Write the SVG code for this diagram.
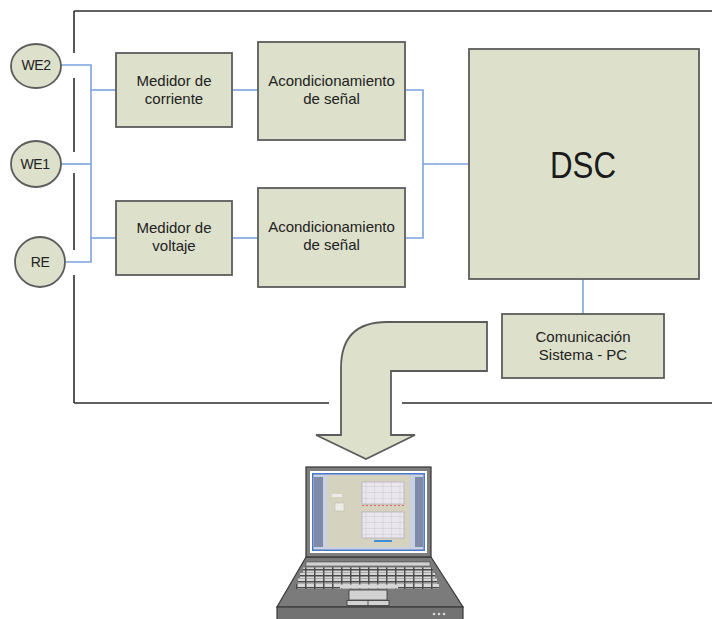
<svg xmlns="http://www.w3.org/2000/svg" width="712" height="619" viewBox="0 0 712 619">
  <defs>
    <style>
      .frame { stroke: #2e2e2e; stroke-width: 1.6; fill: none; }
      .box { fill: #dde0ca; stroke: #5c5c5c; stroke-width: 1.8; }
      .wire { stroke: #7ba3dc; stroke-width: 1.6; fill: none; }
      .lbl { font-family: "Liberation Sans", Arial, sans-serif; font-size: 15px; fill: #222; text-anchor: middle; }
      .node-lbl { font-family: "Liberation Sans", Arial, sans-serif; font-size: 14px; fill: #222; text-anchor: middle; letter-spacing: -0.4px; }
    </style>
    <pattern id="keys" patternUnits="userSpaceOnUse" width="9" height="6">
      <rect width="9" height="6" fill="#4a4a4a"/>
      <rect x="0.5" y="0.5" width="7.5" height="4.5" fill="#d6d6d6"/>
    </pattern>
    <pattern id="grid" patternUnits="userSpaceOnUse" width="8.5" height="6">
      <rect width="8.5" height="6" fill="#e9e6ee"/>
      <path d="M0 0H8.5M0 0V6" stroke="#b8b4c0" stroke-width="0.6"/>
    </pattern>
  </defs>

  <!-- enclosure outline -->
  <g id="enclosure">
    <path class="frame" d="M74 11H712"/>
    <path class="frame" d="M74 11V53M74 78V152M74 173V250M74 275V403"/>
    <path class="frame" d="M74 403H329M402 403H712"/>
  </g>

  <!-- connectors -->
  <g id="connectors">
    <path class="wire" d="M61 65H91V262H66"/>
    <path class="wire" d="M61 164H91"/>
    <path class="wire" d="M91 90H116"/>
    <path class="wire" d="M91 238H116"/>
    <path class="wire" d="M232 90H258"/>
    <path class="wire" d="M232 238H258"/>
    <path class="wire" d="M405 90H423V238H405"/>
    <path class="wire" d="M423 164H469"/>
    <path class="wire" d="M583 279V314"/>
  </g>

  <!-- electrodes -->
  <g id="we2">
    <ellipse class="box" cx="36" cy="66" rx="25" ry="22"/>
    <text class="node-lbl" x="36" y="70">WE2</text>
  </g>
  <g id="we1">
    <ellipse class="box" cx="36" cy="164" rx="25" ry="23"/>
    <text class="node-lbl" x="35" y="169">WE1</text>
  </g>
  <g id="re">
    <ellipse class="box" cx="40" cy="262" rx="25" ry="25"/>
    <text class="node-lbl" x="40" y="267">RE</text>
  </g>

  <!-- measurement blocks -->
  <g id="medidor-corriente">
    <rect class="box" x="116" y="53" width="116" height="74"/>
    <text class="lbl" x="174" y="86">Medidor de</text>
    <text class="lbl" x="174" y="104">corriente</text>
  </g>
  <g id="medidor-voltaje">
    <rect class="box" x="116" y="201" width="116" height="74"/>
    <text class="lbl" x="174" y="233">Medidor de</text>
    <text class="lbl" x="174" y="251">voltaje</text>
  </g>

  <!-- signal conditioning -->
  <g id="acond-1">
    <rect class="box" x="258" y="42" width="147" height="98"/>
    <text class="lbl" x="331.5" y="86">Acondicionamiento</text>
    <text class="lbl" x="331.5" y="104">de señal</text>
  </g>
  <g id="acond-2">
    <rect class="box" x="258" y="188" width="147" height="99"/>
    <text class="lbl" x="331.5" y="232">Acondicionamiento</text>
    <text class="lbl" x="331.5" y="250">de señal</text>
  </g>

  <!-- processor -->
  <g id="dsc">
    <rect class="box" x="469" y="49" width="230" height="230"/>
    <text x="583" y="178" font-family="Liberation Sans, Arial, sans-serif" font-size="36" fill="#1a1a1a" text-anchor="middle" textLength="66" lengthAdjust="spacingAndGlyphs">DSC</text>
  </g>

  <!-- communication -->
  <g id="comunicacion">
    <rect class="box" x="502" y="314" width="162" height="64"/>
    <text class="lbl" x="583" y="342">Comunicación</text>
    <text class="lbl" x="583" y="360">Sistema - PC</text>
  </g>

  <!-- bent transfer arrow -->
  <g id="transfer-arrow">
    <path class="box" d="M487 322H387Q341 322 341 368V435H316L366 459L415 435H391V371H487Z"/>
  </g>

  <!-- laptop -->
  <g id="laptop">
    <!-- base -->
    <polygon points="306,557 431,557 463,607 277,607" fill="#7b7b7b" stroke="#3a3a3a" stroke-width="1.2"/>
    <rect x="277" y="607" width="186" height="14" fill="#727272" stroke="#3a3a3a" stroke-width="1.2"/>
    <circle cx="434" cy="614" r="1.3" fill="#d8d8d8"/>
    <circle cx="439" cy="614" r="1.3" fill="#d8d8d8"/>
    <circle cx="444" cy="614" r="1.3" fill="#d8d8d8"/>
    <!-- keyboard -->
    <rect x="306" y="562" width="124" height="4" fill="#d2d2d2" stroke="#4a4a4a" stroke-width="0.6"/>
    <rect x="303" y="567.5" width="130" height="5" fill="url(#keys)"/>
    <rect x="300" y="573" width="135" height="5" fill="url(#keys)"/>
    <rect x="298" y="578.5" width="139" height="5" fill="url(#keys)"/>
    <rect x="296" y="584" width="143" height="5" fill="url(#keys)"/>
    <rect x="340" y="584.5" width="58" height="4" fill="#d6d6d6"/>
    <!-- touchpad -->
    <rect x="349" y="590" width="38" height="10" fill="#d2d2d2" stroke="#3a3a3a" stroke-width="0.8"/>
    <rect x="347" y="600.5" width="42" height="5" fill="#d2d2d2" stroke="#3a3a3a" stroke-width="0.8"/>
    <path d="M368 600.5V605.5" stroke="#3a3a3a" stroke-width="0.8"/>
    <!-- lid -->
    <rect x="306" y="467" width="125" height="90" fill="#7e7e7e" stroke="#333" stroke-width="1.2"/>
    <rect x="310" y="471" width="117" height="82" fill="#ffffff"/>
    <rect x="312" y="473" width="113" height="78" fill="#4a78c8"/>
    <rect x="313.5" y="474.5" width="110" height="75" fill="#c9d2e2"/>
    <rect x="314" y="477" width="9" height="70" fill="#7f8aa6"/>
    <rect x="415" y="477" width="8" height="70" fill="#7f8aa6"/>
    <!-- application window -->
    <rect x="327" y="475" width="83" height="72" fill="#d6d2c0"/>
    <rect x="332" y="494" width="10" height="3" fill="#ecebe4"/>
    <rect x="335" y="503" width="9" height="8" fill="#ecebe4" stroke="#b9b6aa" stroke-width="0.5"/>
    <rect x="362" y="482" width="42" height="22" fill="url(#grid)" stroke="#a9a5b0" stroke-width="0.6"/>
    <path d="M362 505.5H404" stroke="#e06a6a" stroke-width="1" stroke-dasharray="2 2"/>
    <rect x="362" y="512" width="42" height="26" fill="url(#grid)" stroke="#a9a5b0" stroke-width="0.6"/>
    <rect x="374" y="540" width="18" height="2" fill="#3d8fd6"/>
  </g>
</svg>
